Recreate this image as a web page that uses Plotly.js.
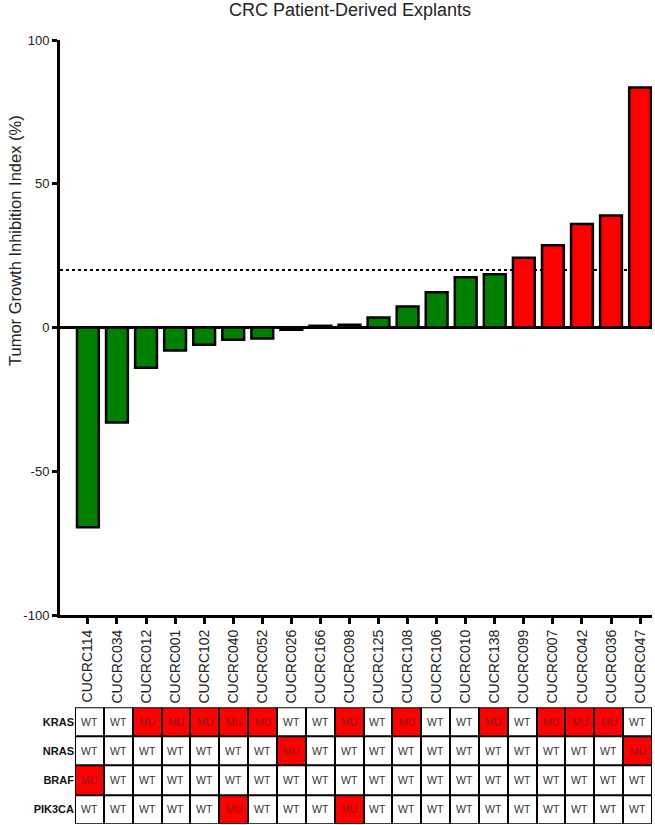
<!DOCTYPE html>
<html>
<head>
<meta charset="utf-8">
<script src="https://cdn.plot.ly/plotly-3.0.1.min.js"></script>
<style>html,body{margin:0;padding:0;background:#fff;}#chart{width:655px;height:825px;}</style>
</head>
<body>
<div id="chart"></div>
<script>
const samples = ["CUCRC114","CUCRC034","CUCRC012","CUCRC001","CUCRC102","CUCRC040","CUCRC052","CUCRC026","CUCRC166","CUCRC098","CUCRC125","CUCRC108","CUCRC106","CUCRC010","CUCRC138","CUCRC099","CUCRC007","CUCRC042","CUCRC036","CUCRC047"];
const tgi = [-69.5,-33,-14,-8,-6,-4.3,-3.8,-0.8,0.6,1,3.5,7.3,12.3,17.5,18.5,24.3,28.6,36,39,83.5];
const threshold = 20;
const genes = ["KRAS","NRAS","BRAF","PIK3CA"];
const KRAS   = ["WT","WT","MU","MU","MU","MU","MU","WT","WT","MU","WT","MU","WT","WT","MU","WT","MU","MU","MU","WT"];
const NRAS   = ["WT","WT","WT","WT","WT","WT","WT","MU","WT","WT","WT","WT","WT","WT","WT","WT","WT","WT","WT","MU"];
const BRAF   = ["MU","WT","WT","WT","WT","WT","WT","WT","WT","WT","WT","WT","WT","WT","WT","WT","WT","WT","WT","WT"];
const PIK3CA = ["WT","WT","WT","WT","WT","MU","WT","WT","WT","MU","WT","WT","WT","WT","WT","WT","WT","WT","WT","WT"];
const status = [KRAS, NRAS, BRAF, PIK3CA];

const barColors = tgi.map(v => v >= threshold ? "#FF0000" : "#007F00");
const FONT = "Liberation Sans, Arial, sans-serif";

const bars = {
  type: "bar", x: samples, y: tgi, xaxis: "x", yaxis: "y",
  marker: {color: barColors, line: {color: "#000", width: 2.5}},
  width: 0.75, hoverinfo: "x+y", showlegend: false
};

const heat = {
  type: "heatmap", x: samples, y: genes, xaxis: "x2", yaxis: "y2",
  z: status.map(r => r.map(s => s === "MU" ? 1 : 0)),
  colorscale: [[0, "#FFFFFF"], [1, "#FF0000"]], zmin: 0, zmax: 1,
  showscale: false, xgap: 2, ygap: 2, hoverinfo: "skip"
};

const annotations = [];
status.forEach((row, i) => {
  row.forEach((s, j) => {
    annotations.push({
      x: samples[j], y: genes[i], xref: "x2", yref: "y2", text: s,
      showarrow: false,
      font: {family: FONT, size: 10.5, color: s === "MU" ? "#8B1A1A" : "#333"}
    });
  });
});
annotations.push({
  text: "Tumor Growth Inhibition Index (%)", textangle: -90, showarrow: false,
  xref: "paper", yref: "paper", x: (15 - 60) / 592, y: (825 - 241) / 785,
  xanchor: "center", yanchor: "middle",
  font: {family: FONT, size: 16.5, color: "#222"}
});

const layout = {
  width: 655, height: 825,
  margin: {l: 60, r: 3, t: 40, b: 0},
  paper_bgcolor: "#fff", plot_bgcolor: "rgba(0,0,0,0)",
  title: {text: "CRC Patient-Derived Explants", font: {family: FONT, size: 18, color: "#222"},
          x: 350 / 655, xref: "container", xanchor: "center", y: 1 - 10 / 825, yref: "container", yanchor: "middle"},
  xaxis: {domain: [0, 1], anchor: "y", type: "category", range: [-0.96, 19.41],
          showline: true, linecolor: "#000", linewidth: 3, mirror: false,
          ticks: "outside", ticklen: 6, tickwidth: 3, tickcolor: "#000",
          tickangle: -90, tickfont: {family: FONT, size: 14, color: "#222"},
          showgrid: false, zeroline: false, fixedrange: true},
  yaxis: {domain: [0.2675, 1], anchor: "x", range: [-100, 100],
          tickvals: [-100, -50, 0, 50, 100], ticktext: ["-100", "-50", "0", "50", "100"],
          showline: true, linecolor: "#000", linewidth: 3,
          ticks: "outside", ticklen: 5, tickwidth: 3, tickcolor: "#000",
          tickfont: {family: FONT, size: 13, color: "#222"},
          showgrid: false, zeroline: true, zerolinecolor: "#000", zerolinewidth: 3},
  xaxis2: {domain: [0.0253, 1], anchor: "y2", type: "category", range: [-0.5, 19.5],
           showticklabels: false, ticks: "", showgrid: false, zeroline: false, showline: false},
  yaxis2: {domain: [0.0013, 0.150], anchor: "x2", type: "category", autorange: "reversed",
           ticks: "", showgrid: false, zeroline: false, showline: false,
           tickfont: {family: FONT, size: 11, color: "#111", weight: "bold"}},
  shapes: [
    {type: "line", xref: "x domain", yref: "y", x0: 0, x1: 1, y0: threshold, y1: threshold,
     line: {color: "#000", width: 2, dash: "dot"}, layer: "below"},
    {type: "rect", xref: "x2 domain", yref: "y2 domain", x0: 0, x1: 1, y0: 0, y1: 1,
     fillcolor: "#000", line: {width: 0}, layer: "below"}
  ],
  annotations: annotations
};

Plotly.newPlot("chart", [bars, heat], layout, {displayModeBar: false, staticPlot: true});
</script>
</body>
</html>
